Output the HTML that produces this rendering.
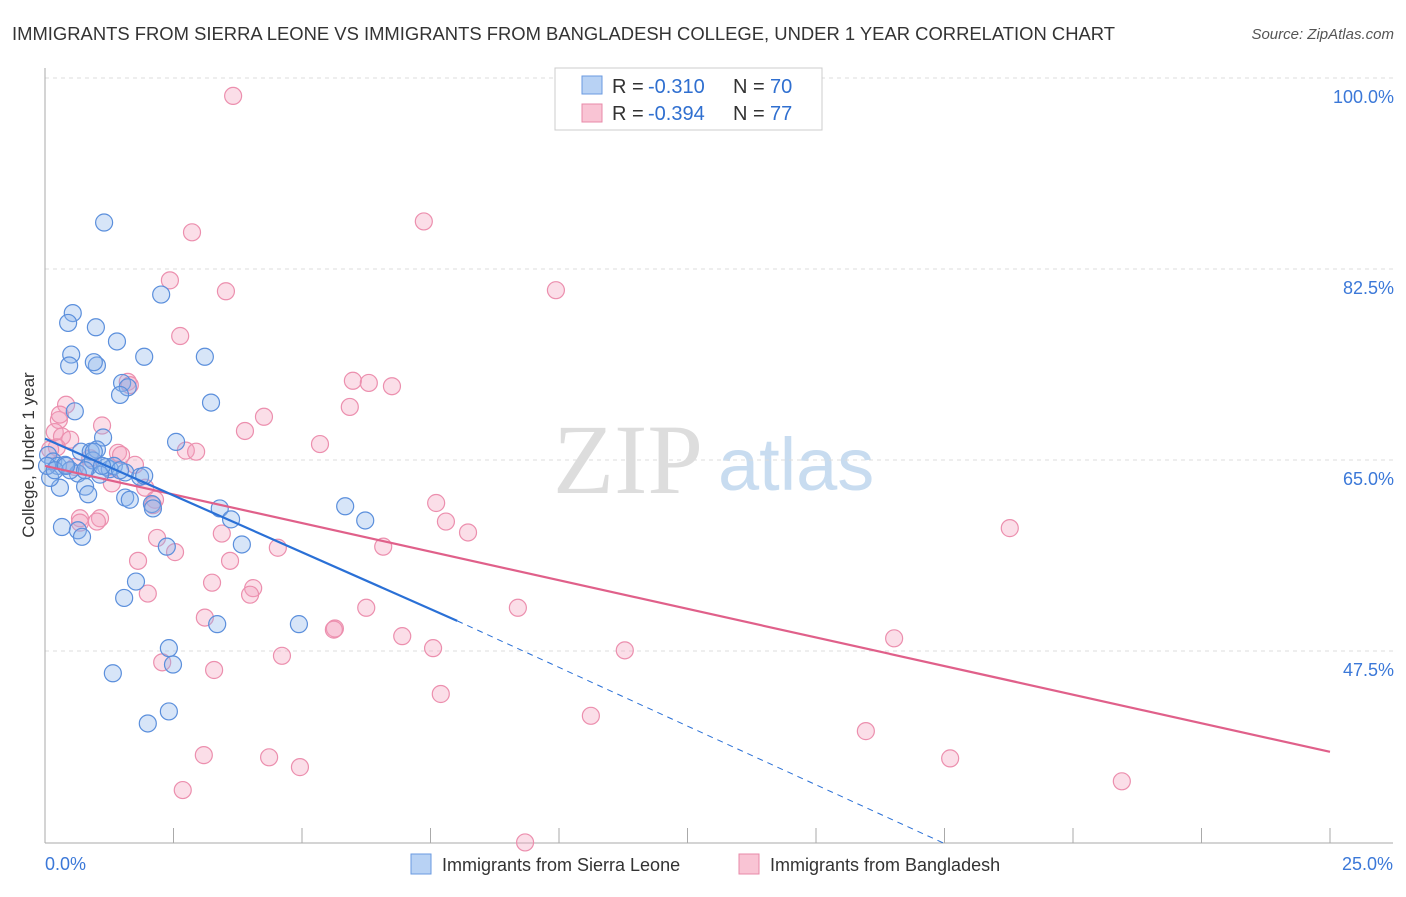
<!DOCTYPE html>
<html><head><meta charset="utf-8"><style>
body{margin:0;background:#fff;font-family:"Liberation Sans",sans-serif}
</style></head><body>
<svg id="chart" width="1406" height="892" xmlns="http://www.w3.org/2000/svg" font-family="Liberation Sans, sans-serif">
<text x="12" y="40" font-size="18" fill="#333" textLength="1103" lengthAdjust="spacingAndGlyphs">IMMIGRANTS FROM SIERRA LEONE VS IMMIGRANTS FROM BANGLADESH COLLEGE, UNDER 1 YEAR CORRELATION CHART</text>
<text x="1394" y="39" font-size="15" fill="#555" font-style="italic" text-anchor="end">Source: ZipAtlas.com</text>
<g>
<text x="553" y="493" font-size="100" font-family="Liberation Serif, serif" fill="#ddd">ZIP</text>
<text x="718" y="490" font-size="74" fill="#c8dcf0">atlas</text>
</g>
<g id="grid"></g><g id="axes"></g><g id="pts"></g><g id="lines"></g>
<text transform="translate(34,455) rotate(-90)" font-size="17" fill="#333" text-anchor="middle">College, Under 1 year</text>
<g font-size="20">
<rect x="555" y="68" width="267" height="62" fill="#fff" stroke="#ccc"/>
<rect x="582" y="76" width="20" height="18" fill="#b8d2f4" stroke="#6a9ae0"/>
<rect x="582" y="104" width="20" height="18" fill="#f9c4d4" stroke="#e88aa8"/>
<text x="612" y="93" fill="#333">R =</text><text x="648" y="93" fill="#2f6fd0">-0.310</text>
<text x="733" y="93" fill="#333">N =</text><text x="770" y="93" fill="#2f6fd0">70</text>
<text x="612" y="120" fill="#333">R =</text><text x="648" y="120" fill="#2f6fd0">-0.394</text>
<text x="733" y="120" fill="#333">N =</text><text x="770" y="120" fill="#2f6fd0">77</text>
</g>
<g>
<rect x="411" y="854" width="20" height="20" fill="#b8d2f4" stroke="#6a9ae0"/>
<text x="442" y="871" font-size="18" fill="#333">Immigrants from Sierra Leone</text>
<rect x="739" y="854" width="20" height="20" fill="#f9c4d4" stroke="#e88aa8"/>
<text x="770" y="871" font-size="18" fill="#333">Immigrants from Bangladesh</text>
</g>
</svg>
<script>
const yTicks=[100,82.5,65,47.5];
const yTickLabels=["100.0%","82.5%","65.0%","47.5%"];
const xEndLabels=["0.0%","25.0%"];
const blueX=[1.15,0.54,0.45,0.99,1.40,0.51,0.47,1.01,0.95,1.93,3.11,2.26,1.50,1.61,1.46,3.23,0.58,1.13,2.55,0.06,0.16,0.25,0.39,0.84,0.70,0.89,1.01,0.93,0.64,1.19,1.26,1.34,1.56,1.85,1.93,0.29,0.78,0.84,1.56,1.65,2.08,2.10,3.40,3.62,5.84,6.23,0.33,0.64,0.72,2.37,3.83,1.77,1.54,3.35,4.94,2.41,2.49,1.32,2.41,2.00,0.10,0.04,0.19,0.49,1.07,0.78,0.41,1.46,0.95,1.11];
const blueY=[88.5,80.2,79.3,78.9,77.6,76.4,75.4,75.4,75.7,76.2,76.2,81.9,73.8,73.4,72.7,72.0,71.2,68.8,68.4,67.2,66.6,66.2,66.3,66.1,67.5,67.5,67.7,66.7,65.5,66.1,65.9,66.2,65.6,65.2,65.3,64.2,64.3,63.6,63.3,63.1,62.7,62.3,62.3,61.3,62.5,61.2,60.6,60.3,59.7,58.8,59.0,55.6,54.1,51.7,51.7,49.5,48.0,47.2,43.7,42.6,65.1,66.2,65.8,65.8,65.4,65.8,66.2,65.8,67.5,66.2];
const pinkX=[3.66,7.37,2.86,2.43,3.52,9.94,2.63,1.61,1.65,5.99,6.30,6.75,0.41,5.93,4.26,0.27,1.11,3.89,0.19,0.33,0.49,5.35,2.74,2.94,1.42,1.48,0.88,0.23,1.75,1.30,1.95,2.14,2.10,7.61,0.68,1.07,0.68,7.80,8.23,1.01,3.44,2.18,6.58,4.53,2.53,1.81,3.60,3.25,4.05,3.99,2.00,6.25,9.20,3.11,5.64,5.62,6.95,7.55,11.28,16.52,4.61,2.28,3.29,7.70,10.62,15.97,3.09,4.36,4.96,17.61,2.68,20.95,9.34,18.77,0.10,0.29,0.58];
const pinkY=[100.1,88.6,87.6,83.2,82.2,82.3,78.1,73.9,73.6,74.0,73.8,73.5,71.8,71.6,70.7,70.4,69.9,69.4,69.3,68.9,68.6,68.2,67.6,67.5,67.4,67.2,66.9,67.9,66.3,64.6,64.2,63.1,62.6,62.8,61.4,61.4,61.0,61.1,60.1,61.1,60.0,59.6,58.8,58.7,58.3,57.5,57.5,55.5,55.0,54.4,54.5,53.2,53.2,52.3,51.3,51.2,50.6,49.5,49.3,50.4,48.8,48.2,47.5,45.3,43.3,41.9,39.7,39.5,38.6,39.4,36.5,37.3,31.7,60.5,67.7,70.9,66.1];
const blueTrend=[[0,68.7],[8.02,52.0],[17.5,31.6]];
const pinkTrend=[[0,66.2],[25,40.0]];
const X=v=>45+v*51.4, Y=v=>97+(100-v)*10.914;
const NS="http://www.w3.org/2000/svg";
function mk(t,a,p){const e=document.createElementNS(NS,t);for(const k in a)e.setAttribute(k,a[k]);document.getElementById(p).appendChild(e);return e;}
yTicks.forEach((t,i)=>{
 const g=mk('line',{x1:45,x2:1393,y1:Y(t)-19,y2:Y(t)-19,stroke:'#ddd','stroke-dasharray':'4,4'},'grid');
 
 
 const l=mk('text',{x:1394,y:Y(t)+6,'font-size':18,fill:'#3b78d8','text-anchor':'end'},'grid');l.textContent=yTickLabels[i];
 
 
});
const ax=mk('line',{x1:45,x2:45,y1:68,y2:843,stroke:'#aaa'},'axes');


const bx=mk('line',{x1:45,x2:1393,y1:843,y2:843,stroke:'#aaa'},'axes');


for(let i=0;i<=10;i++){const t=mk('line',{x1:X(i*2.5),x2:X(i*2.5),y1:828,y2:843,stroke:'#aaa'},'axes');
 
 }
const l0=mk('text',{x:45,y:870,'font-size':18,fill:'#3b78d8'},'axes');l0.textContent=xEndLabels[0];


const l1=mk('text',{x:1393,y:870,'font-size':18,fill:'#3b78d8','text-anchor':'end'},'axes');l1.textContent=xEndLabels[1];


pinkX.forEach((x,i)=>{const c=mk('circle',{cx:X(x),cy:Y(pinkY[i]),r:8.5,fill:'rgba(244,160,188,0.35)',stroke:'#ec8fae','stroke-width':1.2},'pts');
 
 });
blueX.forEach((x,i)=>{const c=mk('circle',{cx:X(x),cy:Y(blueY[i]),r:8.5,fill:'rgba(140,180,236,0.35)',stroke:'#5b8fdc','stroke-width':1.2},'pts');
 
 });
const pl=mk('line',{x1:X(pinkTrend[0][0]),y1:Y(pinkTrend[0][1]),x2:X(pinkTrend[1][0]),y2:Y(pinkTrend[1][1]),stroke:'#e0608a','stroke-width':2.2},'lines');


const bl=mk('line',{x1:X(blueTrend[0][0]),y1:Y(blueTrend[0][1]),x2:X(blueTrend[1][0]),y2:Y(blueTrend[1][1]),stroke:'#2a70d6','stroke-width':2.2},'lines');


const bd=mk('line',{x1:X(blueTrend[1][0]),y1:Y(blueTrend[1][1]),x2:X(blueTrend[2][0]),y2:Y(blueTrend[2][1]),stroke:'#2a70d6','stroke-width':1,'stroke-dasharray':'6,5'},'lines');


</script>
</body></html>
